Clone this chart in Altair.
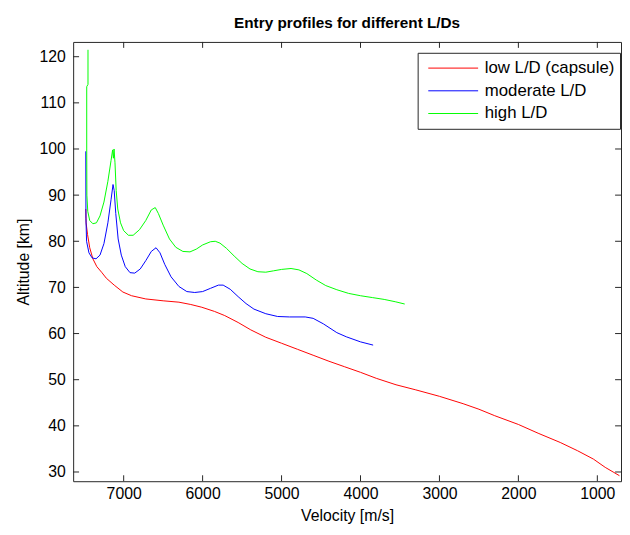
import altair as alt
import pandas as pd

series_names = ["low L/D (capsule)", "moderate L/D", "high L/D"]
series_colors = ["#ff0000", "#0000ff", "#00ff00"]

low_v = [7480, 7476, 7458, 7430, 7390, 7340, 7280, 7220, 7120, 7010, 6900, 6720, 6500, 6300,
         6150, 6010, 5850, 5720, 5550, 5390, 5200, 5000, 4800, 4600, 4400, 4200, 4000, 3800,
         3550, 3300, 3000, 2700, 2500, 2300, 2000, 1750, 1470, 1250, 1050, 900, 800, 720]
low_alt = [87.0, 84.0, 81.5, 78.6, 76.2, 74.5, 73.3, 72.0, 70.5, 69.0, 68.2, 67.5, 67.1, 66.8,
           66.3, 65.7, 64.8, 63.9, 62.4, 60.8, 59.2, 57.9, 56.6, 55.3, 54.0, 52.8, 51.6, 50.3,
           48.9, 47.8, 46.4, 44.8, 43.6, 42.2, 40.3, 38.4, 36.4, 34.6, 32.8, 31.0, 30.0, 29.2]

mod_v = [7480, 7478, 7470, 7440, 7400, 7350, 7300, 7250, 7200, 7160, 7135, 7120, 7100, 7070,
         7030, 6980, 6920, 6860, 6790, 6720, 6650, 6590, 6540, 6480, 6400, 6300, 6200, 6100,
         6000, 5900, 5800, 5740, 5650, 5550, 5450, 5350, 5200, 5050, 4900, 4700, 4600, 4470,
         4300, 4180, 4000, 3840]
mod_alt = [99.5, 85.0, 80.0, 77.5, 76.4, 76.2, 77.0, 79.5, 84.0, 89.0, 92.3, 91.0, 86.0, 80.5,
           77.0, 74.5, 73.2, 73.1, 74.0, 75.8, 77.8, 78.6, 77.5, 75.0, 72.3, 70.2, 69.1, 68.9,
           69.1, 69.8, 70.5, 70.5, 69.6, 68.0, 66.5, 65.3, 64.3, 63.7, 63.6, 63.6, 63.3, 62.1,
           60.2, 59.3, 58.2, 57.5]

high_v = [7452, 7452, 7468, 7468, 7466, 7455, 7430, 7390, 7345, 7300, 7250, 7200, 7160, 7140,
          7130, 7122, 7110, 7095, 7075, 7040, 7000, 6940, 6880, 6800, 6720, 6650, 6600, 6560,
          6500, 6420, 6340, 6250, 6160, 6080, 6000, 5900, 5840, 5780, 5700, 5600, 5500, 5400,
          5300, 5200, 5100, 5000, 4880, 4780, 4680, 4560, 4440, 4300, 4150, 4000, 3850, 3700,
          3560, 3440]
high_alt = [121.5, 114.0, 113.5, 100.0, 90.0, 86.5, 84.5, 83.8, 84.0, 85.5, 88.5, 93.0, 97.5, 99.8,
            98.0, 100.0, 97.0, 91.0, 87.0, 84.0, 82.3, 81.3, 81.3, 82.5, 84.5, 86.8, 87.3, 86.0,
            83.5, 80.5, 78.7, 77.8, 77.7, 78.3, 79.2, 79.9, 80.0, 79.6, 78.5, 76.8, 75.2, 74.0,
            73.4, 73.3, 73.6, 73.9, 74.1, 73.8, 73.0, 71.6, 70.4, 69.5, 68.7, 68.2, 67.8, 67.4,
            66.9, 66.4]

x_ticks = [7000, 6000, 5000, 4000, 3000, 2000, 1000]
y_ticks = [30, 40, 50, 60, 70, 80, 90, 100, 110, 120]

rows = []
for name, vs, hs in zip(series_names, [low_v, mod_v, high_v], [low_alt, mod_alt, high_alt]):
    for i, (v, h) in enumerate(zip(vs, hs)):
        rows.append({"series": name, "velocity": v, "altitude": h, "idx": i})
df = pd.DataFrame(rows)

W, H = 555, 445
TL = 6
AXC = "#262626"
FONT = "Liberation Sans"

xscale = alt.Scale(domain=[700, 7640], reverse=True, nice=False, zero=False)
yscale = alt.Scale(domain=[28, 123.2], nice=False, zero=False)

x_axis = alt.Axis(values=x_ticks, title="Velocity [m/s]", format="d", ticks=False,
                  domain=False, grid=False, labelPadding=5, titlePadding=6)
y_axis = alt.Axis(values=y_ticks, title="Altitude [km]", format="d", ticks=False,
                  domain=False, grid=False, labelPadding=8, titlePadding=8)

lines = alt.Chart(df).mark_line(strokeWidth=1, clip=True).encode(
    x=alt.X("velocity:Q", scale=xscale, axis=x_axis),
    y=alt.Y("altitude:Q", scale=yscale, axis=y_axis),
    color=alt.Color("series:N", scale=alt.Scale(domain=series_names, range=series_colors),
                    legend=alt.Legend(title=None, orient="none", legendX=349, legendY=11,
                                      symbolType="stroke", symbolSize=2550, symbolStrokeWidth=1,
                                      clipHeight=21, rowPadding=2, padding=5, symbolOffset=5,
                                      labelOffset=6, labelFontSize=17, labelFont=FONT,
                                      labelColor="black", strokeColor=AXC, fillColor="white",
                                      cornerRadius=0)),
    order="idx:Q",
)

xt = pd.DataFrame({"velocity": x_ticks})
yt = pd.DataFrame({"altitude": y_ticks})

tick_bottom = alt.Chart(xt).mark_rule(color=AXC, strokeWidth=1).encode(
    x=alt.X("velocity:Q", scale=xscale, axis=x_axis), y=alt.value(H), y2=alt.value(H - TL))
tick_top = alt.Chart(xt).mark_rule(color=AXC, strokeWidth=1).encode(
    x=alt.X("velocity:Q", scale=xscale, axis=x_axis), y=alt.value(0), y2=alt.value(TL))
tick_left = alt.Chart(yt).mark_rule(color=AXC, strokeWidth=1).encode(
    y=alt.Y("altitude:Q", scale=yscale, axis=y_axis), x=alt.value(0), x2=alt.value(TL))
tick_right = alt.Chart(yt).mark_rule(color=AXC, strokeWidth=1).encode(
    y=alt.Y("altitude:Q", scale=yscale, axis=y_axis), x=alt.value(W), x2=alt.value(W - TL))

chart = alt.layer(lines, tick_bottom, tick_top, tick_left, tick_right).properties(
    width=W, height=H,
    title=alt.TitleParams("Entry profiles for different L/Ds", fontSize=15.5, font=FONT,
                          fontWeight="bold", anchor="middle", frame="group", offset=10,
                          color="black"),
    padding={"left": 7, "right": 0, "top": 5, "bottom": 0},
    background="white",
).configure_view(
    stroke=AXC, strokeWidth=1
).configure_axis(
    labelFont=FONT, labelFontSize=16, labelColor="black",
    titleFont=FONT, titleFontSize=16, titleFontWeight="normal", titleColor="black",
)

chart.save("out.html", embed_options={"renderer": "svg", "actions": False})
